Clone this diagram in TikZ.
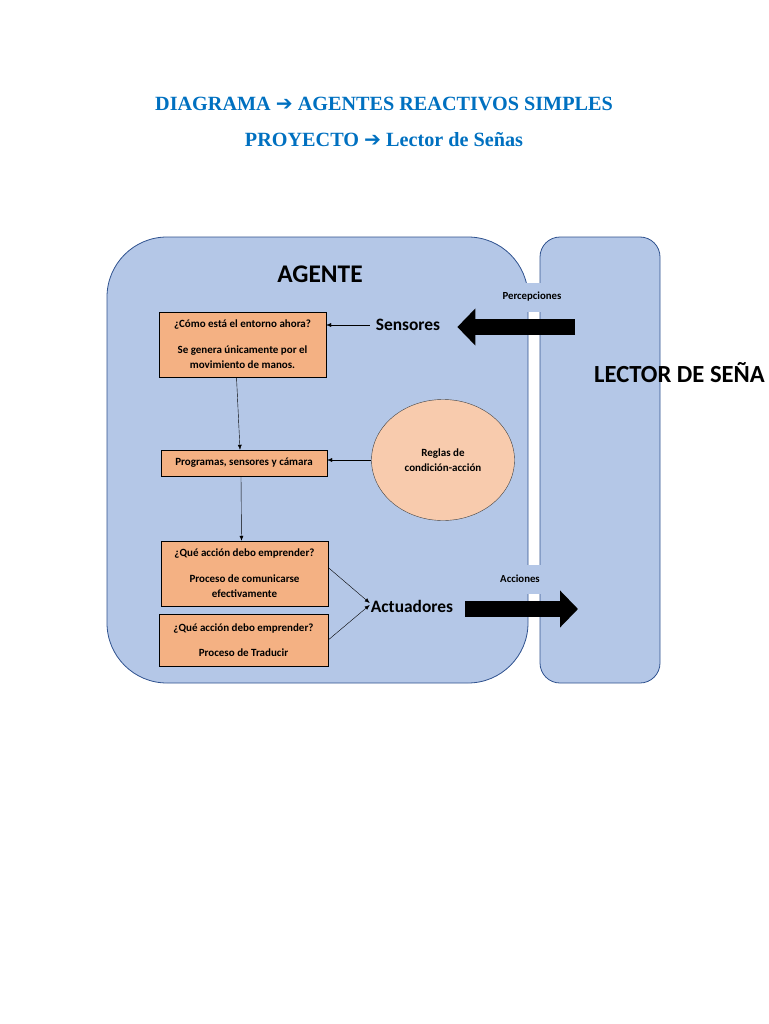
\documentclass[tikz,border=0pt]{standalone}
\usepackage{fontspec}
\setmainfont{Liberation Serif}
\setsansfont{Carlito}
\newfontfamily\symfont{DejaVu Sans}
\usepackage{xcolor}
\usetikzlibrary{positioning}
\usetikzlibrary{shapes.geometric}
\usetikzlibrary {arrows.meta}
\definecolor{cblue}{HTML}{0070C0}
\definecolor{cagent}{HTML}{B4C7E7}
\definecolor{cedge}{HTML}{2F528F}
\definecolor{cbox}{HTML}{F4B183}
\definecolor{cpeach}{HTML}{F8CBAD}

\begin{document}
\begin{tikzpicture}[x=1pt, y=-1pt]
    \tikzset{
        title/.style={font=\fontsize{20.2}{24}\selectfont\bfseries, text=cblue, inner sep=0pt},
        region/.style={rectangle, draw=cedge, thick, fill=cagent},
        proc/.style={rectangle, draw, fill=cbox, font=\sffamily\bfseries\fontsize{11}{15.5}\selectfont, align=center, inner sep=0pt},
        rules/.style={ellipse, draw=black!75, fill=cpeach, font=\sffamily\bfseries\fontsize{11}{15.5}\selectfont, align=center, minimum width=143, minimum height=121},
        big/.style={font=\sffamily\bfseries\fontsize{25.4}{28}\selectfont, inner sep=0pt},
        part/.style={font=\sffamily\bfseries\fontsize{17.4}{20}\selectfont, inner sep=1pt},
        gaplabel/.style={rectangle, fill=cagent, font=\sffamily\bfseries\fontsize{10.8}{12}\selectfont, minimum width=74, minimum height=29},
        flow/.style={draw, thin, -{Latex[length=5pt, width=4pt]}},
        bigflow/.style={draw, line width=16pt, -{Triangle[length=18pt, width=36pt]}}
    }
    \useasboundingbox (0,0) rectangle (768,1024);

    \node[title] (title1) at (384,104) {DIAGRAMA {\symfont ➔} AGENTES REACTIVOS SIMPLES};
    \node[title] (title2) at (384,140) {PROYECTO {\symfont ➔} Lector de Señas};

    \node[region, rounded corners=60, minimum width=421, minimum height=446] (agent) at (317.5,460) {};
    \node[region, rounded corners=20, minimum width=120, minimum height=446] (lector) at (600,460) {};

    \node[big] (agent_title) at (320,274) {AGENTE};
    \node[big, anchor=west, font=\sffamily\bfseries\fontsize{24.6}{28}\selectfont] (lector_title) at (594,373) {LECTOR DE SEÑA};

    \node[proc, minimum width=167, minimum height=65] (state) at (242.5,344.5) {¿Cómo está el entorno ahora?\\[10pt]Se genera únicamente por el\\movimiento de manos.};
    \node[proc, minimum width=166, minimum height=26] (programs) at (244,463) {Programas, sensores y cámara};
    \node[proc, minimum width=167, minimum height=65] (action1) at (244.5,573.5) {¿Qué acción debo emprender?\\[10pt]Proceso de comunicarse\\efectivamente};
    \node[proc, minimum width=169, minimum height=52] (action2) at (243.5,640) {¿Qué acción debo emprender?\\[10pt]Proceso de Traducir};
    \node[rules] (rules) at (443,460) {Reglas de\\condición-acción};

    \node[part] (sensors) at (408,325) {Sensores};
    \node[part] (actuators) at (412,606) {Actuadores};

    \node[gaplabel] (perceptions) at (532,297) {Percepciones};
    \node[gaplabel] (actions) at (520,579) {Acciones};

    \coordinate (perc_in) at (575,327);
    \coordinate (act_out) at (578,609);

    \path[bigflow] (perc_in) -- ([xshift=16pt]sensors.east |- perc_in);
    \path[bigflow] ([xshift=11pt]actuators.east |- act_out) -- (act_out);

    \path[flow] ([xshift=-5pt]sensors.west) -- (sensors.west -| state.east);
    \path[flow] ([xshift=-6pt]state.south) -- ([xshift=-4pt]programs.north);
    \path[flow] (rules.west) -- (rules.west -| programs.east);
    \path[flow] ([xshift=-3pt]programs.south) -- ([xshift=-3pt]action1.north);
    \path[flow] ([yshift=6pt]action1.east) -- ([yshift=3pt]actuators.west);
    \path[flow] (action2.east) -- ([yshift=1pt]actuators.west);
\end{tikzpicture}
\end{document}
